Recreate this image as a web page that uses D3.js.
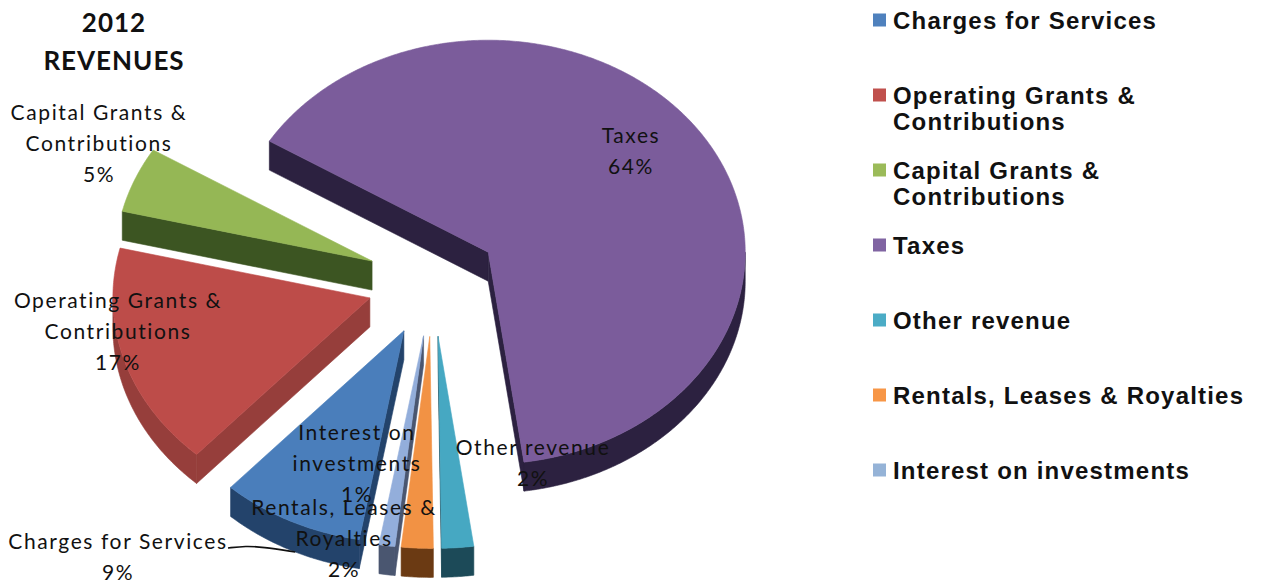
<!DOCTYPE html>
<html>
<head>
<meta charset="utf-8">
<script src="https://cdn.jsdelivr.net/npm/d3@7"></script>
<style>
  body { margin: 0; background: #fff; }
  svg { display: block; }
</style>
</head>
<body>
<svg id="chart" width="1261" height="586"></svg>
<script>
// Revenue categories and their shares (percent of total)
const categories = [
  "Charges for Services",
  "Operating Grants & Contributions",
  "Capital Grants & Contributions",
  "Taxes",
  "Other revenue",
  "Rentals, Leases & Royalties",
  "Interest on investments"
];
const shares = [9, 17, 5, 64, 2, 2, 1];

// Wrapped text for the slice labels and for the legend
const labelLines = [
  ["Charges for Services"],
  ["Operating Grants &", "Contributions"],
  ["Capital Grants &", "Contributions"],
  ["Taxes"],
  ["Other revenue"],
  ["Rentals, Leases &", "Royalties"],
  ["Interest on", "investments"]
];
const legendLines = [
  ["Charges for Services"],
  ["Operating Grants &", "Contributions"],
  ["Capital Grants &", "Contributions"],
  ["Taxes"],
  ["Other revenue"],
  ["Rentals, Leases & Royalties"],
  ["Interest on investments"]
];
const titleLines = ["2012", "REVENUES"];

// ---- styling ----
const topColors  = ["#4a7ebb", "#bd4c49", "#95b755", "#7b5c9b", "#46a8c2", "#f29244", "#93aedb"];
const sideColors = ["#23436b", "#963e3b", "#3c5522", "#2c2140", "#1c4a58", "#6b3a13", "#4a5670"];
const legendColors = ["#4f81bd", "#c0504d", "#9bbb59", "#8064a2", "#4bacc6", "#f79646", "#95b3d7"];

// ---- 3D pie geometry ----
const cx = 433, cy = 282;      // centre of the un-exploded pie
const rx = 257, ry = 212;      // top-face ellipse radii
const depth = 29;              // thickness of the pie
const explode = 66;            // how far each slice is pulled out
const startDeg = 190;          // angle of the first slice, clockwise from 12 o'clock
const rad = Math.PI / 180;

const svg = d3.select("#chart");

const data = categories.map((name, i) => ({ name, value: shares[i], i }));
const arcs = d3.pie()
  .sort(null)
  .value(d => d.value)
  .startAngle(startDeg * rad)
  .endAngle(startDeg * rad + 2 * Math.PI)(data);

const radius = d3.scaleLinear().domain([0, 1]).range([0, 1]);

arcs.forEach(a => {
  const mid = (a.startAngle + a.endAngle) / 2;
  a.mid = mid;
  a.ox = cx + explode * Math.sin(mid);
  a.oy = cy - explode * (ry / rx) * Math.cos(mid);
});

function pt(a, ang, r, z) {
  return [a.ox + radius(r) * rx * Math.sin(ang), a.oy - radius(r) * ry * Math.cos(ang) + z];
}
function arcPts(a, t0, t1, z) {
  const n = Math.max(2, Math.ceil(Math.abs(t1 - t0) / (0.5 * rad)));
  return d3.range(n + 1).map(k => pt(a, t0 + (t1 - t0) * k / n, 1, z));
}
const poly = pts => d3.line()(pts) + "Z";

// paint back-to-front
const order = arcs.slice().sort((p, q) => p.oy - q.oy);

const pieG = svg.append("g");
order.forEach(a => {
  const g = pieG.append("g");
  const side = sideColors[a.data.i], top = topColors[a.data.i];
  const faces = [];
  // cut faces of the wedge
  if (Math.cos(a.startAngle - Math.PI / 2) < 0) {
    faces.push([pt(a, 0, 0, 0), pt(a, a.startAngle, 1, 0), pt(a, a.startAngle, 1, depth), pt(a, 0, 0, depth)]);
  }
  if (Math.cos(a.endAngle + Math.PI / 2) < 0) {
    faces.push([pt(a, 0, 0, 0), pt(a, a.endAngle, 1, 0), pt(a, a.endAngle, 1, depth), pt(a, 0, 0, depth)]);
  }
  // outer rim where it faces the viewer
  for (let k = 0; k < 2; k++) {
    const lo = Math.max(a.startAngle, Math.PI / 2 + 2 * Math.PI * k);
    const hi = Math.min(a.endAngle, 3 * Math.PI / 2 + 2 * Math.PI * k);
    if (hi > lo) faces.push(arcPts(a, lo, hi, 0).concat(arcPts(a, hi, lo, depth)));
  }
  faces.forEach(f => g.append("path").attr("d", poly(f))
    .attr("fill", side).attr("stroke", side).attr("stroke-width", 0.6));
  // top face
  const topPts = [pt(a, 0, 0, 0)].concat(arcPts(a, a.startAngle, a.endAngle, 0));
  g.append("path").attr("d", poly(topPts))
    .attr("fill", top).attr("stroke", top).attr("stroke-width", 0.6);
});

// ---- data labels ----
const labelFont = "Lato, 'Open Sans', sans-serif";
const labelSize = 21;
const lineGap = 31;
const labelPos = {
  "Charges for Services":            [118, 541],
  "Operating Grants & Contributions": [118, 300],
  "Capital Grants & Contributions":   [99, 112],
  "Taxes":                            [631, 135],
  "Other revenue":                    [533, 447],
  "Rentals, Leases & Royalties":      [344, 507],
  "Interest on investments":          [357, 432]
};

// leader line from the "Charges for Services" label to its slice
const charges = arcs[0];
const leaderEnd = pt(charges, 205 * rad, 1, depth);
svg.append("path")
  .attr("d", d3.line().curve(d3.curveBasis)([[228, 548], [246, 546], [262, 547], leaderEnd]))
  .attr("fill", "none").attr("stroke", "#111").attr("stroke-width", 1.6);

const labG = svg.append("g")
  .attr("font-family", labelFont).attr("font-size", labelSize)
  .attr("fill", "#111").attr("text-anchor", "middle").attr("letter-spacing", 1.6);
arcs.forEach(a => {
  const [x, y] = labelPos[a.data.name];
  const lines = labelLines[a.data.i].concat([shares[a.data.i] + "%"]);
  lines.forEach((t, j) => {
    labG.append("text").attr("x", x).attr("y", y + j * lineGap + 0.36 * labelSize).text(t);
  });
});

// ---- title ----
svg.append("g").attr("font-family", labelFont).attr("font-weight", 700)
  .attr("font-size", 26).attr("fill", "#111").attr("text-anchor", "middle")
  .attr("letter-spacing", 1)
  .selectAll("text").data(titleLines).join("text")
  .attr("x", 114).attr("y", (d, i) => 23 + i * 38 + 0.36 * 26).text(d => d);

// ---- legend ----
const legSize = 24;
const leg = svg.append("g").attr("font-family", "'Liberation Sans', Arial, sans-serif")
  .attr("font-weight", 700).attr("font-size", legSize).attr("fill", "#111")
  .attr("letter-spacing", 1.2);
const legY = d3.scalePoint().domain(categories).range([20, 470]);
categories.forEach((c, i) => {
  const y = legY(c);
  leg.append("rect").attr("x", 873).attr("y", y - 6.5).attr("width", 13).attr("height", 13)
    .attr("fill", legendColors[i]);
  legendLines[i].forEach((t, j) => {
    leg.append("text").attr("x", 893).attr("y", y + j * 26 + 0.358 * legSize).text(t);
  });
});
</script>
</body>
</html>
